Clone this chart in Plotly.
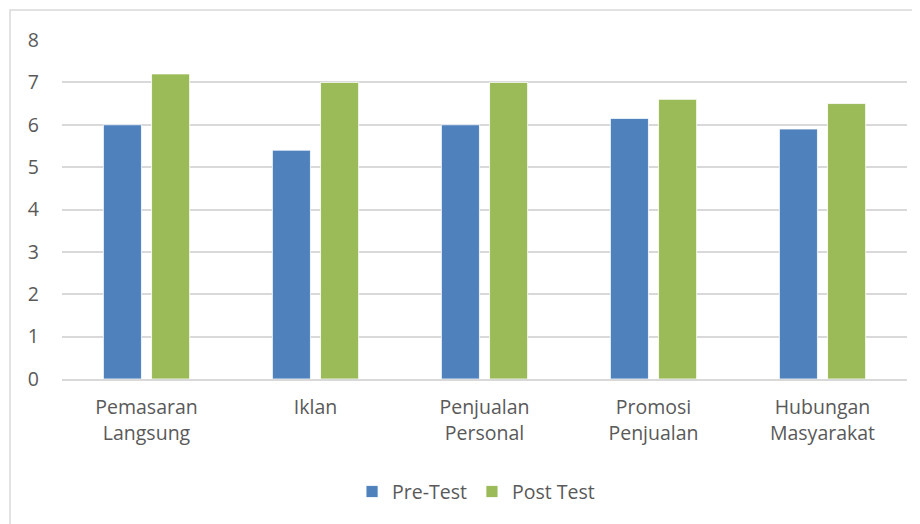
import plotly.graph_objects as go

categories = ["Pemasaran<br>Langsung", "Iklan", "Penjualan<br>Personal", "Promosi<br>Penjualan", "Hubungan<br>Masyarakat"]
pre_test = [6.0, 5.4, 6.0, 6.15, 5.9]
post_test = [7.2, 7.0, 7.0, 6.6, 6.5]
y_ticks = [0, 1, 2, 3, 4, 5, 6, 7, 8]

font_family = "'Open Sans', sans-serif"
text_color = "#595959"
fs = 19.5

fig = go.Figure()
fig.add_trace(go.Bar(name="Pre-Test", x=categories, y=pre_test,
                     marker=dict(color="#4f81bd", line=dict(color="white", width=0.8))))
fig.add_trace(go.Bar(name="Post Test", x=categories, y=post_test,
                     marker=dict(color="#9bbb59", line=dict(color="white", width=0.8))))

fig.update_layout(
    width=912, height=516,
    margin=dict(l=54, r=13, t=32, b=145),
    paper_bgcolor="white", plot_bgcolor="white",
    barmode="group", bargap=0.43, bargroupgap=0.21,
    font=dict(family=font_family, size=fs, color=text_color),
    showlegend=True,
    legend=dict(orientation="h", x=0.49, xanchor="center", y=-0.333, yanchor="middle",
                font=dict(size=fs, color=text_color), itemwidth=30, traceorder="normal"),
    xaxis=dict(showgrid=False, showline=True, linecolor="#d9d9d9", linewidth=1.5,
               ticks="", ticklabelstandoff=10, tickfont=dict(size=fs, color=text_color)),
    yaxis=dict(range=[0, 8], tickvals=y_ticks, showgrid=True, gridcolor="#d9d9d9", gridwidth=1.5,
               zeroline=False, showline=False, ticks="", ticklabelstandoff=22,
               tickfont=dict(size=fs, color=text_color)),
    shapes=[dict(type="rect", xref="paper", yref="paper", x0=-0.0615, x1=1.2, y0=-0.6, y1=1.0885,
                 line=dict(color="#d9d9d9", width=1.5), fillcolor="rgba(0,0,0,0)", layer="below")],
)

fig.write_html("out.html")
